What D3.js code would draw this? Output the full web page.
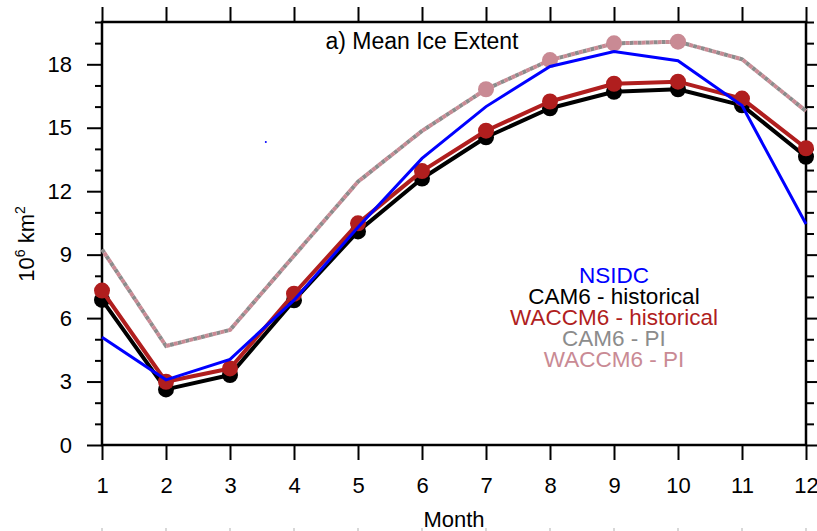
<!DOCTYPE html>
<html lang="en">
	<head>
		<meta charset="utf-8">
		<title>Mean Ice Extent</title>
		<script type="text/javascript" src="https://d3js.org/d3.v7.min.js"></script>
		<style type="text/css">
			body { margin: 0; background: #fff; }
			svg text { font-family: "Liberation Sans", Arial, Helvetica, sans-serif; }
			.axis text { font-size: 22px; fill: #000; }
			.axis line { stroke: #000; stroke-width: 2px; }
		</style>
	</head>
	<body>
		<script type="text/javascript">

			// data
			var months = [1, 2, 3, 4, 5, 6, 7, 8, 9, 10, 11, 12];
			var nsidc      = [5.1, 3.08, 4.05, 6.85, 10.3, 13.55, 16.0, 17.9, 18.6, 18.17, 16.05, 10.45];
			var cam6Hist   = [6.86, 2.63, 3.31, 6.84, 10.1, 12.6, 14.55, 15.92, 16.7, 16.82, 16.06, 13.63];
			var waccm6Hist = [7.3, 2.99, 3.62, 7.15, 10.48, 12.95, 14.86, 16.24, 17.08, 17.18, 16.38, 14.03];
			var cam6PI     = [9.25, 4.68, 5.44, 8.95, 12.45, 14.85, 16.82, 18.2, 18.99, 19.07, 18.24, 15.79];
			var waccm6PI   = [9.25, 4.68, 5.44, 8.95, 12.45, 14.85, 16.82, 18.2, 18.99, 19.07, 18.24, 15.79];
			var piMarkerMonths = [7, 8, 9, 10];
			var strayPoint = [3.56, 14.33];

			var yMajor = [0, 3, 6, 9, 12, 15, 18];
			var yMinor = [1, 2, 4, 5, 7, 8, 10, 11, 13, 14, 16, 17, 19, 20];

			var legendLabels = ["NSIDC", "CAM6 - historical", "WACCM6 - historical", "CAM6 - PI", "WACCM6 - PI"];
			var legendColors = ["#0000ff", "#000000", "#b01e1e", "#8c8c8c", "#c98a94"];

			var plotL = 102, plotR = 806, plotT = 22, plotB = 445;

			var svg = d3.select("body").append("svg")
				.attr("width", 817)
				.attr("height", 531);

			var xScale = d3.scaleLinear().domain([1, 12]).range([plotL, plotR]);
			var yScale = d3.scaleLinear().domain([0, 20]).range([plotB, plotT]);

			// axes
			var yAxis = d3.axisLeft(yScale).tickValues(yMajor).tickSize(15).tickPadding(15).tickSizeOuter(0);
			var yAxisMinor = d3.axisLeft(yScale).tickValues(yMinor).tickSize(7).tickFormat("").tickSizeOuter(0);
			var yAxisR = d3.axisRight(yScale).tickValues(yMajor).tickSize(15).tickFormat("").tickSizeOuter(0);
			var yAxisRMinor = d3.axisRight(yScale).tickValues(yMinor).tickSize(8).tickFormat("").tickSizeOuter(0);
			var xAxis = d3.axisBottom(xScale).tickValues(months).tickSize(15).tickPadding(17).tickFormat(d3.format("d")).tickSizeOuter(0);
			var xAxisTop = d3.axisTop(xScale).tickValues(months).tickSize(15).tickFormat("").tickSizeOuter(0);

			svg.append("g").attr("class", "axis").attr("transform", `translate(${plotL},0)`).call(yAxis);
			svg.append("g").attr("class", "axis").attr("transform", `translate(${plotL},0)`).call(yAxisMinor);
			svg.append("g").attr("class", "axis").attr("transform", `translate(${plotR},0)`).call(yAxisR);
			svg.append("g").attr("class", "axis").attr("transform", `translate(${plotR},0)`).call(yAxisRMinor);
			svg.append("g").attr("class", "axis").attr("transform", `translate(0,${plotB})`).call(xAxis);
			svg.append("g").attr("class", "axis").attr("transform", `translate(0,${plotT})`).call(xAxisTop);
			svg.selectAll(".axis .domain").remove();
			svg.selectAll(".axis text").attr("font-family", null).attr("font-size", null);

			// faint marks of the panel below, cut at the bottom edge
			svg.append("g").selectAll("line")
				.data(months)
				.enter()
				.append("line")
				.attr("x1", d => xScale(d)).attr("x2", d => xScale(d))
				.attr("y1", 528).attr("y2", 531)
				.attr("stroke", "#d8d8d8")
				.attr("stroke-width", 2);

			// frame
			svg.append("rect")
				.attr("x", plotL).attr("y", plotT)
				.attr("width", plotR - plotL).attr("height", plotB - plotT)
				.attr("fill", "none")
				.attr("stroke", "#000")
				.attr("stroke-width", 2.5);

			var line = d3.line()
				.x((d, i) => xScale(months[i]))
				.y(d => yScale(d));

			// PI runs, dashed and nearly on top of each other
			svg.append("path")
				.datum(cam6PI)
				.attr("d", line)
				.attr("fill", "none")
				.attr("stroke", legendColors[3])
				.attr("stroke-width", 4)
				.attr("stroke-dasharray", "4,4");

			svg.append("path")
				.datum(waccm6PI)
				.attr("d", line)
				.attr("fill", "none")
				.attr("stroke", legendColors[4])
				.attr("stroke-width", 4)
				.attr("stroke-dasharray", "4,4")
				.attr("stroke-dashoffset", 4);

			svg.append("g").selectAll("circle")
				.data(piMarkerMonths)
				.enter()
				.append("circle")
				.attr("cx", d => xScale(d))
				.attr("cy", d => yScale(waccm6PI[d - 1]))
				.attr("r", 8)
				.attr("fill", legendColors[4]);

			// historical runs
			[[cam6Hist, legendColors[1]], [waccm6Hist, legendColors[2]]].forEach(function(s) {
				svg.append("path")
					.datum(s[0])
					.attr("d", line)
					.attr("fill", "none")
					.attr("stroke", s[1])
					.attr("stroke-width", 4)
					.attr("stroke-linejoin", "round");

				svg.append("g").selectAll("circle")
					.data(s[0])
					.enter()
					.append("circle")
					.attr("cx", (d, i) => xScale(months[i]))
					.attr("cy", d => yScale(d))
					.attr("r", 8)
					.attr("fill", s[1]);
			});

			// observations
			svg.append("path")
				.datum(nsidc)
				.attr("d", line)
				.attr("fill", "none")
				.attr("stroke", legendColors[0])
				.attr("stroke-width", 3);

			svg.append("circle")
				.attr("cx", xScale(strayPoint[0]))
				.attr("cy", yScale(strayPoint[1]))
				.attr("r", 1)
				.attr("fill", legendColors[0]);

			// title
			svg.append("text")
				.attr("x", 422).attr("y", 49)
				.attr("text-anchor", "middle")
				.style("font-size", "23px")
				.text("a) Mean Ice Extent");

			// legend
			svg.append("g").selectAll("text")
				.data(legendLabels)
				.enter()
				.append("text")
				.attr("x", 614)
				.attr("y", (d, i) => 283 + i * 21)
				.attr("text-anchor", "middle")
				.style("font-size", "22.5px")
				.attr("fill", (d, i) => legendColors[i])
				.text(d => d);

			// axis titles
			svg.append("text")
				.attr("x", (plotL + plotR) / 2).attr("y", 527)
				.attr("text-anchor", "middle")
				.style("font-size", "22px")
				.text("Month");

			var yLab = svg.append("text")
				.attr("transform", "translate(34,244) rotate(-90)")
				.attr("text-anchor", "middle")
				.style("font-size", "22px");
			yLab.append("tspan").text("10");
			yLab.append("tspan").attr("dy", "-9").style("font-size", "14px").text("6");
			yLab.append("tspan").attr("dy", "9").text(" km");
			yLab.append("tspan").attr("dy", "-9").style("font-size", "14px").text("2");

		</script>
	</body>
</html>
